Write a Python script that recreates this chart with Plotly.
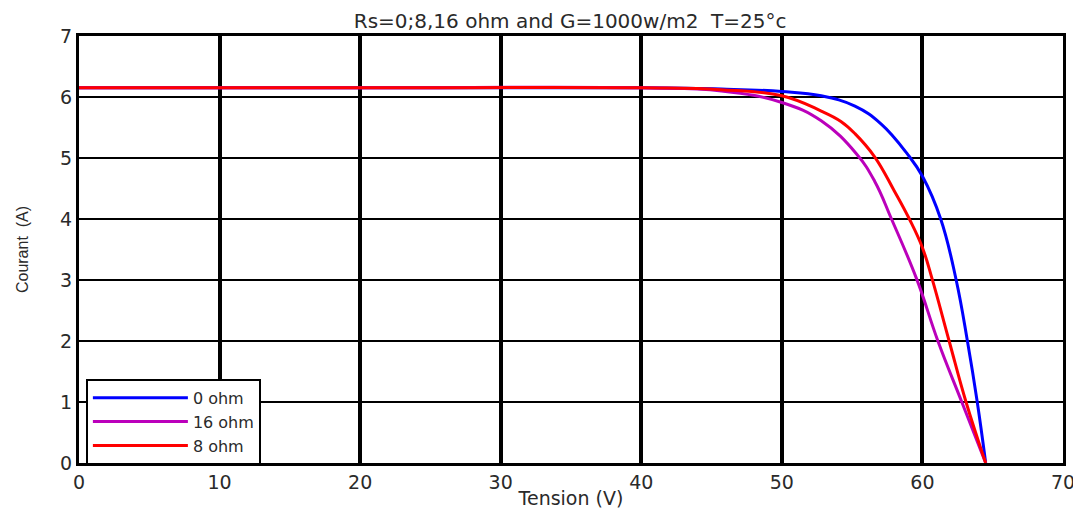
import plotly.graph_objects as go

# Data
v_0ohm = [0, 20, 40, 45.7, 50.0, 52.8, 55.2, 57.05, 58.95, 60.0, 61.3, 62.4, 63.2, 63.9, 64.5]
i_0ohm = [6.15, 6.15, 6.15, 6.13, 6.09, 6.02, 5.85, 5.56, 5.06, 4.70, 4.0, 3.0, 2.0, 1.0, 0.0]

v_16ohm = [0, 20, 40, 45.7, 50.0, 52.8, 55.3, 56.6, 57.8, 59.6, 61.1, 62.8, 64.5]
i_16ohm = [6.15, 6.15, 6.15, 6.10, 5.91, 5.61, 5.07, 4.62, 4.0, 3.01, 2.0, 1.0, 0.0]

v_8ohm = [0, 20, 40, 45.7, 50.0, 52.8, 54.2, 55.2, 56.6, 58.0, 59.07, 60.0, 60.7, 61.9, 63.1, 64.5]
i_8ohm = [6.15, 6.15, 6.15, 6.12, 6.02, 5.77, 5.60, 5.40, 5.02, 4.46, 4.0, 3.53, 3.01, 2.0, 1.0, 0.0]

x_ticks = [0, 10, 20, 30, 40, 50, 60, 70]
y_ticks = [0, 1, 2, 3, 4, 5, 6, 7]

title_text = "Rs=0;8,16 ohm and G=1000w/m2  T=25°c"
x_title = "Tension (V)"
y_title = "Courant  (A)"

fig = go.Figure()
fig.add_trace(go.Scatter(x=v_0ohm, y=i_0ohm, mode="lines", name="0 ohm",
                         line=dict(color="#0000ff", width=3, shape="spline", smoothing=1.2)))
fig.add_trace(go.Scatter(x=v_16ohm, y=i_16ohm, mode="lines", name="16 ohm",
                         line=dict(color="#bb00bb", width=3, shape="spline", smoothing=1.2)))
fig.add_trace(go.Scatter(x=v_8ohm, y=i_8ohm, mode="lines", name="8 ohm",
                         line=dict(color="#ff0000", width=3, shape="spline", smoothing=1.2)))

wide_font = "DejaVu Sans, Verdana, sans-serif"
txt = "#2a2a2a"

fig.update_layout(
    width=1081, height=510,
    margin=dict(l=71, r=26, t=28, b=55, autoexpand=False),
    paper_bgcolor="white", plot_bgcolor="white",
    title=dict(text=title_text, x=0.52, xanchor="center", y=0.975, yanchor="middle",
               font=dict(family=wide_font, size=20, color=txt)),
    font=dict(family=wide_font, color=txt),
    legend=dict(x=0.007, y=0.197, xanchor="left", yanchor="top",
                bordercolor="black", borderwidth=2, bgcolor="white",
                font=dict(family=wide_font, size=16, color=txt),
                itemwidth=95, tracegroupgap=0),
    showlegend=True,
)
fig.update_xaxes(range=[0, 70], tickvals=x_ticks, ticktext=[str(t) for t in x_ticks],
                 showgrid=True, gridcolor="black", gridwidth=4,
                 showline=True, linecolor="black", linewidth=3, mirror=True,
                 zeroline=False, ticks="", tickfont=dict(size=19, family=wide_font, color=txt),
                 title=dict(text=x_title, font=dict(size=19, family=wide_font, color=txt), standoff=0))
fig.update_yaxes(range=[0, 7], tickvals=y_ticks, ticktext=[str(t) for t in y_ticks],
                 showgrid=True, gridcolor="black", gridwidth=2,
                 showline=True, linecolor="black", linewidth=3, mirror=True,
                 zeroline=False, ticks="", tickfont=dict(size=19, family=wide_font, color=txt),
                 title=dict(text=y_title, font=dict(size=16, family="Liberation Sans, Arial, sans-serif", color=txt),
                            standoff=28))

fig.write_html("out.html")
